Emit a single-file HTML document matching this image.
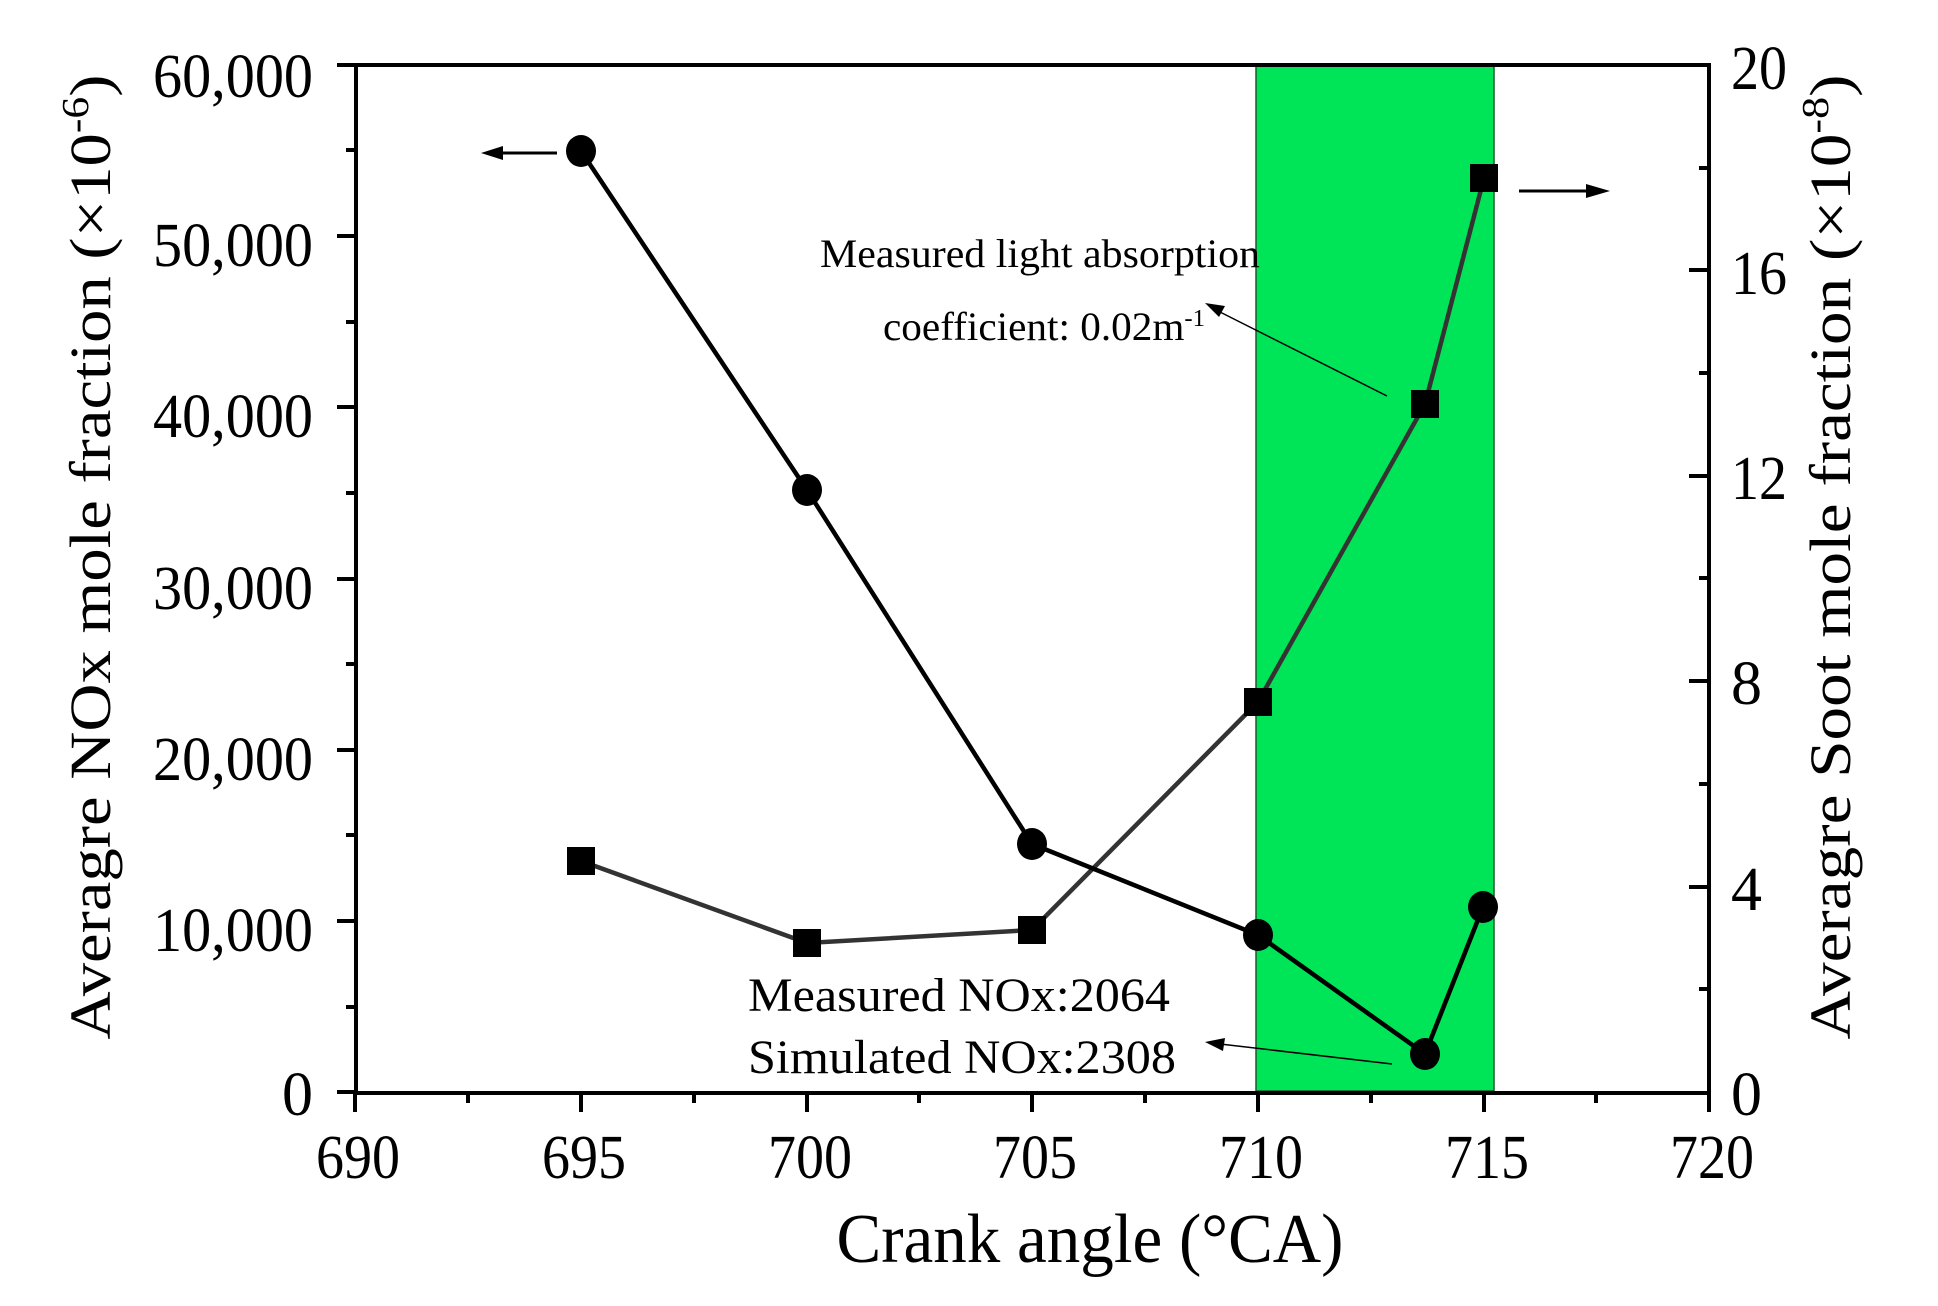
<!DOCTYPE html>
<html><head><meta charset="utf-8"><style>html,body{margin:0;padding:0;background:#fff}svg{display:block}</style></head>
<body>
<svg width="1938" height="1306" viewBox="0 0 1938 1306" xmlns="http://www.w3.org/2000/svg" font-family="'Liberation Serif', serif">
<rect x="1256" y="65" width="238" height="1026" fill="#00e458" stroke="#1a5a2a" stroke-width="1.5"/>
<g stroke="#000" stroke-width="4" fill="none">
<path d="M356 65 H1709 V1093 H356 Z"/>
<path d="M337 65H356M337 236H356M337 407H356M337 579H356M337 750H356M337 921H356M337 1092H356"/>
<path d="M346 150H356M346 322H356M346 493H356M346 664H356M346 835H356M346 1007H356"/>
<path d="M1689 65H1709M1689 270H1709M1689 476H1709M1689 681H1709M1689 887H1709"/>
<path d="M1699 168H1709M1699 373H1709M1699 578H1709M1699 784H1709M1699 989H1709"/>
<path d="M355 1093V1112M581 1093V1112M807 1093V1112M1032 1093V1112M1258 1093V1112M1484 1093V1112M1709 1093V1112"/>
<path d="M468 1093V1103M694 1093V1103M919 1093V1103M1145 1093V1103M1371 1093V1103M1596 1093V1103"/>
</g>
<g font-size="62" text-anchor="end" fill="#000">
<text x="313" y="97" textLength="160" lengthAdjust="spacingAndGlyphs">60,000</text><text x="313" y="266" textLength="160" lengthAdjust="spacingAndGlyphs">50,000</text><text x="313" y="437" textLength="160" lengthAdjust="spacingAndGlyphs">40,000</text><text x="313" y="609" textLength="160" lengthAdjust="spacingAndGlyphs">30,000</text><text x="313" y="780" textLength="160" lengthAdjust="spacingAndGlyphs">20,000</text><text x="313" y="951" textLength="160" lengthAdjust="spacingAndGlyphs">10,000</text><text x="313" y="1115">0</text>
</g>
<g font-size="62" fill="#000">
<text x="1731" y="89" textLength="56" lengthAdjust="spacingAndGlyphs">20</text><text x="1731" y="294" textLength="56" lengthAdjust="spacingAndGlyphs">16</text><text x="1731" y="499" textLength="56" lengthAdjust="spacingAndGlyphs">12</text><text x="1731" y="704">8</text><text x="1731" y="910">4</text><text x="1731" y="1115">0</text>
</g>
<g font-size="62" text-anchor="middle" fill="#000">
<text x="358" y="1178" textLength="84" lengthAdjust="spacingAndGlyphs">690</text><text x="584" y="1178" textLength="84" lengthAdjust="spacingAndGlyphs">695</text><text x="810" y="1178" textLength="84" lengthAdjust="spacingAndGlyphs">700</text><text x="1035" y="1178" textLength="84" lengthAdjust="spacingAndGlyphs">705</text><text x="1261" y="1178" textLength="84" lengthAdjust="spacingAndGlyphs">710</text><text x="1487" y="1178" textLength="84" lengthAdjust="spacingAndGlyphs">715</text><text x="1712" y="1178" textLength="84" lengthAdjust="spacingAndGlyphs">720</text>
</g>
<text x="1090" y="1262" font-size="70" text-anchor="middle" textLength="507" lengthAdjust="spacingAndGlyphs">Crank angle (°CA)</text>
<text transform="translate(110,557) rotate(-90)" font-size="58" text-anchor="middle" textLength="965" lengthAdjust="spacingAndGlyphs">Averagre NOx mole fraction (×10<tspan dy="-22" font-size="38">-6</tspan><tspan dy="22">)</tspan></text>
<text transform="translate(1850,557) rotate(-90)" font-size="58" text-anchor="middle" textLength="965" lengthAdjust="spacingAndGlyphs">Averagre Soot mole fraction (×10<tspan dy="-22" font-size="38">-8</tspan><tspan dy="22">)</tspan></text>
<polyline points="581,861 807,943 1032,930 1258,702 1425,404 1484,178" fill="none" stroke="#333" stroke-width="4.5"/>
<g fill="#000">
<rect x="567" y="847" width="28" height="28"/><rect x="793" y="929" width="28" height="28"/><rect x="1018" y="916" width="28" height="28"/><rect x="1244" y="688" width="28" height="28"/><rect x="1411" y="390" width="28" height="28"/><rect x="1470" y="164" width="28" height="28"/>
</g>
<polyline points="581,151 807,490 1032,844 1258,935 1425,1054 1483,907" fill="none" stroke="#000" stroke-width="4.5"/>
<g fill="#000">
<ellipse cx="581" cy="151" rx="15" ry="16"/><ellipse cx="807" cy="490" rx="15" ry="16"/><ellipse cx="1032" cy="844" rx="15" ry="16"/><ellipse cx="1258" cy="935" rx="15" ry="16"/><ellipse cx="1425" cy="1054" rx="15" ry="16"/><ellipse cx="1483" cy="907" rx="15" ry="16"/>
</g>
<g stroke="#000" stroke-width="3"><line x1="557" y1="153" x2="495" y2="153"/><line x1="1519" y1="191" x2="1595" y2="191"/></g>
<polygon points="481,153 503,146 503,160" fill="#000"/>
<polygon points="1610,191 1586,184 1586,198" fill="#000"/>
<g font-size="40" fill="#000">
<text x="1040" y="267" text-anchor="middle" textLength="440" lengthAdjust="spacingAndGlyphs">Measured light absorption</text>
<text x="883" y="340" textLength="322" lengthAdjust="spacingAndGlyphs">coefficient: 0.02m<tspan dy="-14" font-size="24">-1</tspan></text>
</g>
<line x1="1387" y1="396" x2="1218" y2="311" stroke="#000" stroke-width="1.5"/>
<polygon points="1205,303 1225,306 1219,317" fill="#000"/>
<g font-size="48" fill="#000">
<text x="748" y="1011" textLength="422" lengthAdjust="spacingAndGlyphs">Measured NOx:2064</text>
<text x="748" y="1073" textLength="428" lengthAdjust="spacingAndGlyphs">Simulated NOx:2308</text>
</g>
<line x1="1392" y1="1064" x2="1220" y2="1044" stroke="#000" stroke-width="1.5"/>
<polygon points="1205,1042 1225,1038 1223,1051" fill="#000"/>
</svg>
</body></html>
